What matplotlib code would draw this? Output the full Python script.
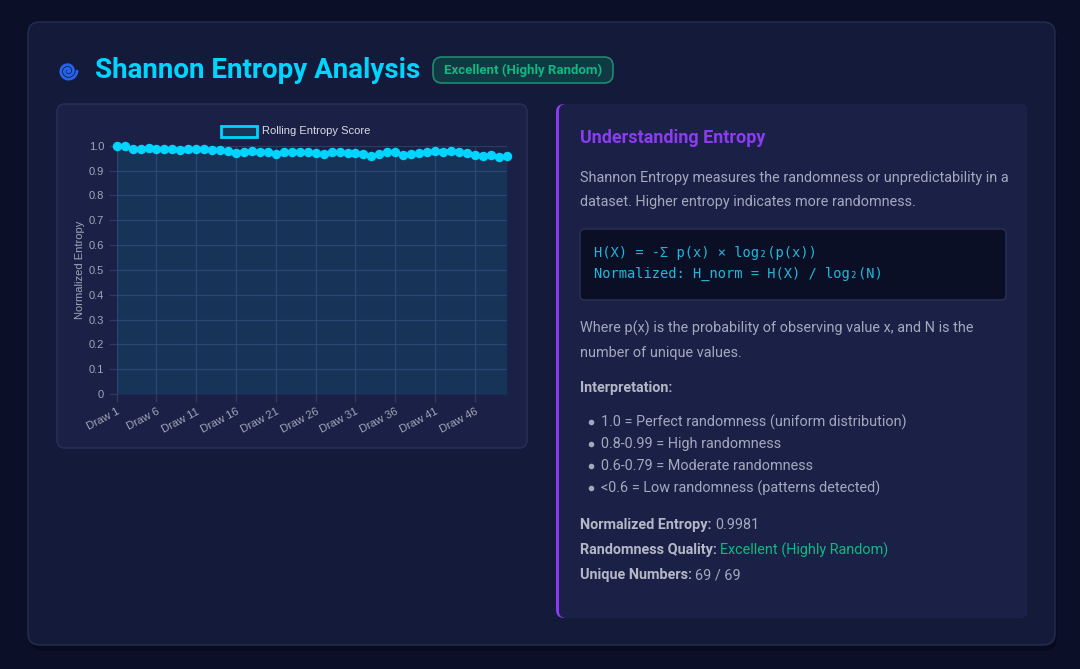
import numpy as np
import matplotlib
matplotlib.use("Agg")
import matplotlib.pyplot as plt
from matplotlib.patches import FancyBboxPatch, Rectangle

# data
draw_labels = [f"Draw {i}" for i in range(1, 51)]
entropy = [1.000, 0.999, 0.988, 0.986, 0.989, 0.986, 0.986, 0.986, 0.984, 0.985,
           0.985, 0.986, 0.982, 0.984, 0.977, 0.972, 0.973, 0.978, 0.974, 0.973,
           0.968, 0.976, 0.973, 0.973, 0.973, 0.969, 0.966, 0.973, 0.973, 0.970,
           0.972, 0.968, 0.957, 0.965, 0.973, 0.973, 0.962, 0.968, 0.970, 0.973,
           0.978, 0.976, 0.980, 0.976, 0.970, 0.962, 0.959, 0.964, 0.954, 0.958]
y_ticks = [0, 0.1, 0.2, 0.3, 0.4, 0.5, 0.6, 0.7, 0.8, 0.9, 1.0]
y_tick_labels = ["0", "0.1", "0.2", "0.3", "0.4", "0.5", "0.6", "0.7", "0.8", "0.9", "1.0"]
series_name = "Rolling Entropy Score"
quality = "Excellent (Highly Random)"
norm_entropy = "0.9981"
unique_numbers = "69 / 69"
bullets = ["1.0 = Perfect randomness (uniform distribution)",
           "0.8-0.99 = High randomness",
           "0.6-0.79 = Moderate randomness",
           "<0.6 = Low randomness (patterns detected)"]

W, H = 1080, 669
PAGE = "#0b0f27"
CARD = "#131a3a"
INNER = "#1b2146"
CYAN = "#00d4ff"
PURPLE = "#8b3cf0"
GREEN = "#10b981"
TXT = "#a3a9bd"
BOLD_TXT = "#b4b8c6"
SANS = ["Roboto", "DejaVu Sans"]
CHART_FONT = ["Liberation Sans", "DejaVu Sans"]

fig = plt.figure(figsize=(W / 100, H / 100), dpi=100, facecolor=PAGE)
bg = fig.add_axes([0, 0, 1, 1])
bg.set_xlim(0, W)
bg.set_ylim(H, 0)
bg.axis("off")

def card(x, y, w, h, fc, ec, r=10, lw=1.0, z=1):
    bg.add_patch(FancyBboxPatch((x, y), w, h, boxstyle=f"round,pad=0,rounding_size={r}",
                                fc=fc, ec=ec, lw=lw, zorder=z))

# shadow + outer card
card(30, 26, 1027, 625, "#080b1d", "none", r=14, z=0)
card(28, 22, 1027, 623, CARD, "#262e50", r=12, z=1)
# left chart card
card(57, 104, 470, 344, INNER, "#2a3156", r=8, z=2)
# right panel with purple left border
card(556, 104, 471, 514, PURPLE, "none", r=8, z=2)
card(559, 104, 468, 514, INNER, "none", r=7, z=3)

# spiral icon
t = np.linspace(0.4, 5.0 * np.pi, 300)
rr = 9.0 * t / t.max()
bg.plot(68 - rr * np.cos(t), 71 + rr * np.sin(t), color="#2563eb", lw=2.0,
        solid_capstyle="round", zorder=5)

# title + badge
bg.text(95, 71, "Shannon Entropy Analysis", color=CYAN, fontsize=20, fontweight="bold",
        family=SANS, va="center", ha="left", zorder=5)
card(433, 57, 180, 26, "#123844", "#1f8a72", r=9, lw=1.2, z=4)
bg.text(523, 70.5, quality, color=GREEN, fontsize=9.5, fontweight="bold", family=SANS,
        va="center", ha="center", zorder=5)

# right panel text
bg.text(580, 138, "Understanding Entropy", color=PURPLE, fontsize=13, fontweight="bold",
        family=SANS, va="center", zorder=5)
bg.text(580, 178, "Shannon Entropy measures the randomness or unpredictability in a",
        color=TXT, fontsize=10.4, family=SANS, va="center", zorder=5)
bg.text(580, 202, "dataset. Higher entropy indicates more randomness.",
        color=TXT, fontsize=10.4, family=SANS, va="center", zorder=5)
card(580, 229, 426, 71, "#0b0f26", "#2a3152", r=5, lw=1.0, z=4)
bg.text(594, 253, "H(X) = -\u03a3 p(x) \u00d7 log\u2082(p(x))", color="#1fb8dc", fontsize=9.9,
        family="DejaVu Sans Mono", va="center", zorder=5)
bg.text(594, 274, "Normalized: H_norm = H(X) / log\u2082(N)", color="#1fb8dc", fontsize=9.9,
        family="DejaVu Sans Mono", va="center", zorder=5)
bg.text(580, 328, "Where p(x) is the probability of observing value x, and N is the",
        color=TXT, fontsize=10.4, family=SANS, va="center", zorder=5)
bg.text(580, 353, "number of unique values.", color=TXT, fontsize=10.4, family=SANS,
        va="center", zorder=5)
bg.text(580, 388, "Interpretation:", color=BOLD_TXT, fontsize=10.4, fontweight="bold",
        family=SANS, va="center", zorder=5)
for i, b in enumerate(bullets):
    yy = 422 + 22 * i
    bg.plot(591, yy, "o", color=TXT, ms=3, zorder=5)
    bg.text(601, yy, b, color=TXT, fontsize=10.4, family=SANS, va="center", zorder=5)

stats = [("Normalized Entropy:", norm_entropy, TXT),
         ("Randomness Quality:", quality, GREEN),
         ("Unique Numbers:", unique_numbers, TXT)]
for i, (lab, val, col) in enumerate(stats):
    yy = 525 + 25 * i
    lt = bg.text(580, yy, lab, color=BOLD_TXT, fontsize=10.4, fontweight="bold",
                 family=SANS, va="center", zorder=5)
    bg.annotate(val, xy=(1, 0.5), xycoords=lt, xytext=(2.5, 0), textcoords="offset points",
                color=col, fontsize=10.4, family=SANS, va="center", ha="left", zorder=5)

# chart axes
x0, x1, ytop, ybot = 116.7, 506.7, 145.7, 394.0
ax = fig.add_axes([x0 / W, 1 - ybot / H, (x1 - x0) / W, (ybot - ytop) / H])
ax.set_facecolor("none")
ax.set_zorder(6)
x = np.arange(len(entropy))
ax.fill_between(x, 0, entropy, color=CYAN, alpha=0.1, lw=0)
ax.plot(x, entropy, color=CYAN, lw=2, marker="o", ms=5.8, mfc=CYAN, mec=CYAN,
        label=series_name, zorder=4, clip_on=False)
ax.set_xlim(0, len(entropy) - 1)
ax.set_ylim(0, 1.0)
ax.set_yticks(y_ticks)
ax.set_yticklabels(y_tick_labels)
ax.set_xticks(x[::5])
ax.set_xticklabels(draw_labels[::5], rotation=28, ha="right", rotation_mode="anchor")
grid_c = "#2f3a60"
ax.grid(True, color=grid_c, lw=0.9)
ax.set_axisbelow(True)
for s in ax.spines.values():
    s.set_visible(False)
ax.tick_params(axis="both", colors=grid_c, length=6, width=0.9, labelcolor="#a0a6b8",
               labelsize=8)
ax.tick_params(axis="y", pad=3)
ax.tick_params(axis="x", pad=3)
for lb in ax.get_xticklabels() + ax.get_yticklabels():
    lb.set_family(CHART_FONT)
ax.set_ylabel("Normalized Entropy", color="#a0a6b8", fontsize=8,
              family=CHART_FONT, labelpad=3)

# legend drawn like chart.js: outlined box + label
bg.add_patch(Rectangle((221, 126), 36, 11, fc="#1a3555", ec=CYAN, lw=2, zorder=7))
bg.text(262, 131.5, series_name, color="#d8dce6", fontsize=8,
        family=CHART_FONT, va="center", zorder=7)

fig.savefig("out.png", dpi=100, facecolor=PAGE)
